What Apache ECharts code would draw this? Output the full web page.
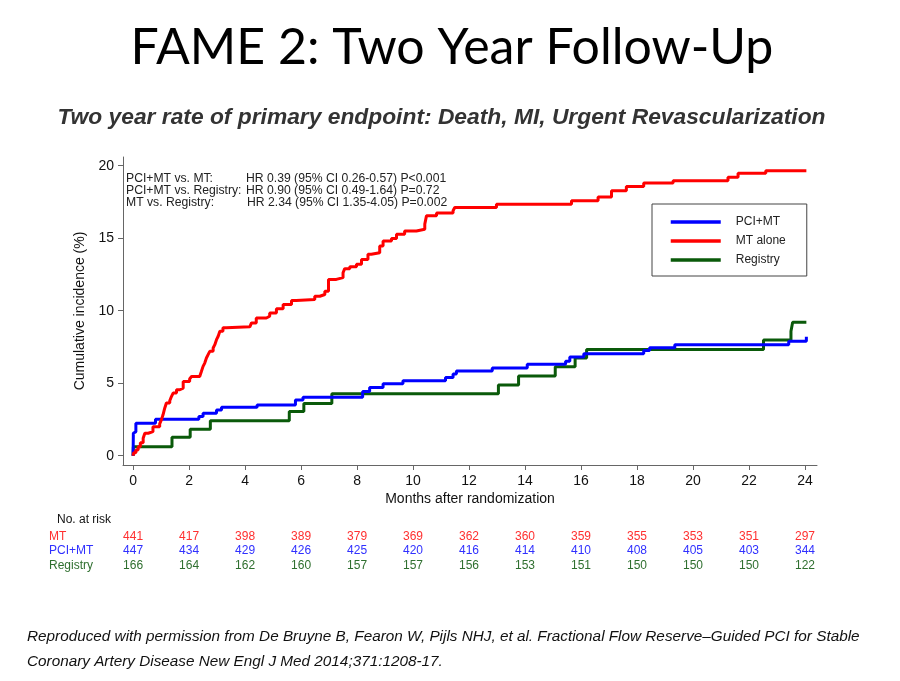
<!DOCTYPE html>
<html>
<head>
<meta charset="utf-8">
<script src="https://cdn.jsdelivr.net/npm/echarts@6/dist/echarts.min.js"></script>
<style>
html,body{margin:0;padding:0;background:#fff;}
#chart{width:900px;height:681px;}
</style>
</head>
<body>
<div id="chart"></div>
<script>
// Tick labels
var xTicks = [0, 2, 4, 6, 8, 10, 12, 14, 16, 18, 20, 22, 24];
var yTicks = [0, 5, 10, 15, 20];

// Cumulative incidence (%) step data: [month, value]
var mtAlone = [[0,0],[0.02,0.21],[0.1,0.39],[0.18,0.62],[0.26,0.9],[0.36,1.2],[0.42,1.55],[0.54,1.66],[0.71,2.0],[0.95,2.2],[1.01,2.47],[1.07,2.82],[1.13,3.28],[1.19,3.63],[1.31,3.79],[1.37,4.08],[1.43,4.32],[1.55,4.55],[1.67,4.66],[1.79,5.12],[2.02,5.29],[2.09,5.47],[2.38,5.58],[2.44,5.81],[2.5,6.16],[2.56,6.39],[2.62,6.74],[2.68,6.97],[2.74,7.2],[2.86,7.43],[2.92,7.66],[2.98,8.0],[3.04,8.24],[3.1,8.58],[3.21,8.82],[3.33,8.89],[4.17,9.0],[4.23,9.16],[4.4,9.5],[4.76,9.62],[4.88,9.85],[5.12,10.13],[5.36,10.43],[5.66,10.7],[5.83,10.78],[6.49,11.0],[6.67,11.12],[6.85,11.35],[6.98,12.16],[7.26,12.28],[7.5,12.62],[7.56,12.9],[7.74,13.04],[7.98,13.2],[8.16,13.54],[8.39,13.89],[8.51,14.0],[8.81,14.46],[8.93,14.81],[9.23,14.98],[9.41,15.27],[9.7,15.5],[10.12,15.62],[10.42,15.97],[10.48,16.54],[10.84,16.73],[11.43,16.89],[11.49,17.12],[12.98,17.35],[15.66,17.58],[16.61,17.85],[17.09,18.27],[17.62,18.57],[18.24,18.8],[19.29,18.96],[21.25,19.2],[21.61,19.48],[22.6,19.65],[24.05,19.65]];
var pciMt = [[0,0],[0.01,1.55],[0.06,1.66],[0.1,2.24],[0.8,2.52],[2.35,2.7],[2.5,2.93],[2.98,3.16],[3.16,3.35],[4.43,3.5],[5.8,3.85],[6.07,4.04],[8.2,4.43],[8.45,4.71],[8.93,4.96],[9.64,5.17],[11.16,5.4],[11.43,5.63],[11.55,5.85],[12.83,6.05],[14.08,6.3],[15.45,6.51],[15.6,6.81],[16.1,7.04],[18.24,7.25],[18.45,7.45],[19.35,7.66],[23.42,7.89],[24.05,8.2]];
var registry = [[0,0],[0.01,0.62],[1.39,1.27],[2.04,1.83],[2.76,2.42],[5.58,3.05],[6.1,3.6],[7.1,4.27],[13.05,4.87],[13.77,5.5],[15.08,6.14],[15.79,6.74],[16.2,7.33],[22.52,7.98],[23.5,8.58],[23.56,9.2],[24.05,9.2]];

// Number at risk
var riskMT = [441, 417, 398, 389, 379, 369, 362, 360, 359, 355, 353, 351, 297];
var riskPCI = [447, 434, 429, 426, 425, 420, 416, 414, 410, 408, 405, 403, 344];
var riskReg = [166, 164, 162, 160, 157, 157, 156, 153, 151, 150, 150, 150, 122];

var seriesNames = ['PCI+MT', 'MT alone', 'Registry'];
var statLabels = ['PCI+MT vs. MT:', 'PCI+MT vs. Registry:', 'MT vs. Registry:'];
var statValues = ['HR 0.39 (95% CI 0.26-0.57) P<0.001', 'HR 0.90 (95% CI 0.49-1.64) P=0.72', 'HR 2.34 (95% CI 1.35-4.05) P=0.002'];

var FONT = 'Liberation Sans, Arial, sans-serif';
var XMIN = -0.36, XMAX = 24.43, YMIN = -0.64, YMAX = 20.6;

function riskAxis(arr, color, offset) {
  return {
    type: 'value', gridIndex: 0, position: 'bottom', offset: offset,
    min: XMIN, max: XMAX,
    axisLine: {show: false}, axisTick: {show: false}, splitLine: {show: false},
    axisLabel: {
      show: true, margin: 0, customValues: xTicks, color: color,
      fontFamily: FONT, fontSize: 12, verticalAlign: 'middle',
      formatter: function (v) { var i = xTicks.indexOf(Math.round(v)); return i >= 0 ? String(arr[i]) : ''; }
    }
  };
}

var chart = echarts.init(document.getElementById('chart'), null, {renderer: 'canvas'});
var txt = function (x, y, s, opt) {
  opt = opt || {};
  return {type: 'text', x: x, y: y, silent: true, style: Object.assign({
    text: s, fill: '#222', font: '12.2px ' + FONT, textAlign: 'left', textVerticalAlign: 'middle'
  }, opt)};
};

var graphics = [
  txt(452, 48, 'FAME 2: Two Year Follow-Up', {font: '50px Lato, sans-serif', fill: '#000', textAlign: 'center'}),
  txt(441.5, 118, 'Two year rate of primary endpoint: Death, MI, Urgent Revascularization', {font: 'italic bold 22.8px ' + FONT, fill: '#333', textAlign: 'center'}),
  txt(27, 637, 'Reproduced with permission from De Bruyne B, Fearon W, Pijls NHJ, et al. Fractional Flow Reserve\u2013Guided PCI for Stable', {font: 'italic 15.3px ' + FONT, fill: '#111'}),
  txt(27, 662, 'Coronary Artery Disease New Engl J Med 2014;371:1208-17.', {font: 'italic 15.3px ' + FONT, fill: '#111'}),
  txt(57, 520, 'No. at risk', {font: '12px ' + FONT, fill: '#111'}),
  txt(49, 537, 'MT', {font: '12px ' + FONT, fill: '#ff3030'}),
  txt(49, 551, 'PCI+MT', {font: '12px ' + FONT, fill: '#3030ff'}),
  txt(49, 566, 'Registry', {font: '12px ' + FONT, fill: '#2f6f2f'})
];
var statY = [178.5, 190.8, 203];
var statX = [246, 246, 247];
for (var i = 0; i < 3; i++) {
  graphics.push(txt(126, statY[i], statLabels[i]));
  graphics.push(txt(statX[i], statY[i], statValues[i]));
}

var option = {
  animation: false,
  backgroundColor: '#fff',
  grid: {left: 123, right: 83, top: 157, bottom: 216, containLabel: false},
  legend: {
    orient: 'vertical', left: 652, top: 204,
    data: seriesNames,
    itemWidth: 50, itemHeight: 12, itemGap: 7,
    padding: [12, 21, 10, 17],
    borderColor: '#444', borderWidth: 1,
    itemStyle: {opacity: 0},
    lineStyle: {width: 3.5},
    textStyle: {fontFamily: FONT, fontSize: 12, color: '#222', padding: [0, 0, 0, 10]},
    selectedMode: false
  },
  xAxis: [
    {
      type: 'value', min: XMIN, max: XMAX,
      name: 'Months after randomization', nameLocation: 'middle', nameGap: 27,
      nameTextStyle: {fontFamily: FONT, fontSize: 14, color: '#111'},
      axisLine: {show: true, onZero: false, lineStyle: {color: '#666', width: 1}},
      axisTick: {show: true, customValues: xTicks, length: 5, lineStyle: {color: '#666'}},
      axisLabel: {customValues: xTicks, margin: 9, fontFamily: FONT, fontSize: 14, color: '#111'},
      splitLine: {show: false}
    },
    riskAxis(riskMT, '#ff3030', 72),
    riskAxis(riskPCI, '#3030ff', 86),
    riskAxis(riskReg, '#2f6f2f', 101)
  ],
  yAxis: {
    type: 'value', min: YMIN, max: YMAX,
    name: 'Cumulative incidence (%)', nameLocation: 'middle', nameGap: 33,
    nameTextStyle: {fontFamily: FONT, fontSize: 14, color: '#111'},
    axisLine: {show: true, onZero: false, lineStyle: {color: '#666', width: 1}},
    axisTick: {show: true, customValues: yTicks, length: 5, lineStyle: {color: '#666'}},
    axisLabel: {customValues: yTicks, margin: 9, fontFamily: FONT, fontSize: 14, color: '#111'},
    splitLine: {show: false}
  },
  series: [
    {name: 'PCI+MT', type: 'line', step: 'end', data: pciMt, symbol: 'none', lineStyle: {color: '#0000ff', width: 3}, itemStyle: {color: '#0000ff'}, z: 3},
    {name: 'MT alone', type: 'line', step: 'end', data: mtAlone, symbol: 'none', lineStyle: {color: '#ff0000', width: 3}, itemStyle: {color: '#ff0000'}, z: 4},
    {name: 'Registry', type: 'line', step: 'end', data: registry, symbol: 'none', lineStyle: {color: '#0a5a0a', width: 3}, itemStyle: {color: '#0a5a0a'}, z: 2}
  ],
  graphic: graphics
};
chart.setOption(option);
</script>
</body>
</html>
